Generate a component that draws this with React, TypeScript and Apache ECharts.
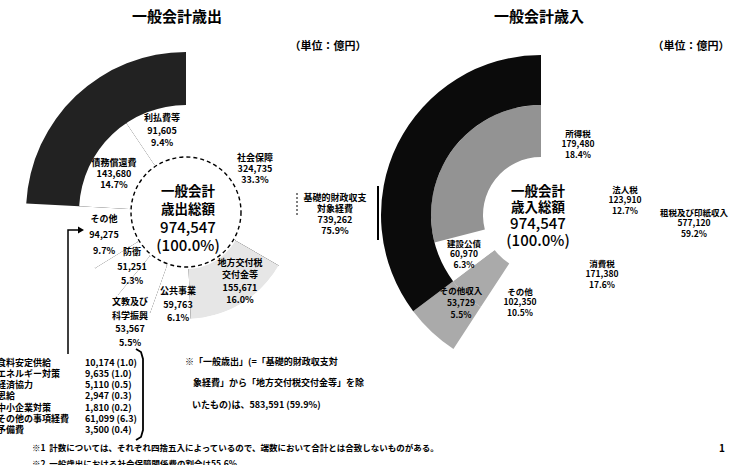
import { useEffect, useRef } from 'react';
import * as echarts from 'echarts';

// ---------------- data ----------------
const EXP_NAMES = ['社会保障', '地方交付税交付金等', '公共事業', '文教及び科学振興', '防衛', 'その他', '債務償還費', '利払費等'];
const EXP_VALUES = [324735, 155671, 59763, 53567, 51251, 94275, 143680, 91605];
const EXP_OUTER_NAMES = ['基礎的財政収支対象経費', '国債費'];

const REV_NAMES = ['所得税', '法人税', '消費税', 'その他', 'その他収入', '建設公債', '特例公債'];
const REV_VALUES = [179480, 123910, 171380, 102350, 53729, 60970, 282728];
const REV_OUTER_NAMES = ['租税及び印紙収入', 'その他収入', '公債金'];

const OTHER_NAMES = ['食料安定供給', 'エネルギー対策', '経済協力', '恩給', '中小企業対策', 'その他の事項経費', '予備費'];
const OTHER_VALUES = [10174, 9635, 5110, 2947, 1810, 61099, 3500];

// ---------------- helpers ----------------
const sum = (a: number[]) => a.reduce((s, v) => s + v, 0);
const fmt = (v: number) => v.toLocaleString('en-US');
const pct = (v: number, t: number) => ((v / t) * 100).toFixed(1);

const EXP_TOTAL = sum(EXP_VALUES);
const REV_TOTAL = sum(REV_VALUES);
const EXP_OUTER_VALUES = [sum(EXP_VALUES.slice(0, 6)), sum(EXP_VALUES.slice(6))];
const REV_OUTER_VALUES = [sum(REV_VALUES.slice(0, 4)), REV_VALUES[4], sum(REV_VALUES.slice(5))];
const GENERAL = EXP_OUTER_VALUES[0] - EXP_VALUES[1];

// ---------------- layout / style ----------------
const FONT = '"Noto Sans CJK JP", "Noto Sans", sans-serif';
const EXP_C = [186, 212];
const REV_C = [541, 215];
const E_R = [57, 107, 160];
const R_R = [58, 110, 160];

type Lab = { x: number; y: number; lh: number; text?: string };

const EXP_COLORS: Record<string, string> = { '地方交付税交付金等': '#e6e6e6' };
const EXP_OUTER_COLORS: Record<string, string> = { '基礎的財政収支対象経費': '#ffffff', '国債費': '#222222' };
const REV_COLORS: Record<string, string> = { '特例公債': '#939393', 'その他収入': '#aaaaaa' };
const REV_OUTER_COLORS: Record<string, string> = { '租税及び印紙収入': '#ffffff', 'その他収入': '#aaaaaa', '公債金': '#0b0b0b' };

const EXP_LABELS: Record<string, Lab> = {
  '社会保障': { x: 255, y: 168, lh: 11 },
  '地方交付税交付金等': { x: 240, y: 281, lh: 12.3, text: '地方交付税\n交付金等' },
  '公共事業': { x: 178, y: 304, lh: 13.5 },
  '文教及び科学振興': { x: 130, y: 322, lh: 13.7, text: '文教及び\n科学振興' },
  '防衛': { x: 132, y: 266, lh: 14.5 },
  'その他': { x: 104, y: 234, lh: 16 },
  '債務償還費': { x: 114, y: 173, lh: 11 },
  '利払費等': { x: 162, y: 130, lh: 12.5 },
};
const EXP_OUTER_LABELS: Record<string, Lab> = {
  '基礎的財政収支対象経費': { x: 335, y: 214, lh: 11, text: '基礎的財政収支\n対象経費' },
};
const REV_LABELS: Record<string, Lab> = {
  '所得税': { x: 578, y: 143, lh: 10.5 },
  '法人税': { x: 625, y: 199, lh: 10.5 },
  '消費税': { x: 602, y: 273, lh: 10.5 },
  'その他': { x: 520, y: 301, lh: 10.5 },
  'その他収入': { x: 461, y: 302, lh: 12 },
  '建設公債': { x: 464, y: 253, lh: 10.5 },
};
const REV_OUTER_LABELS: Record<string, Lab> = {
  '租税及び印紙収入': { x: 694, y: 222, lh: 10.5 },
};

function pieSeries(
  names: string[], values: number[], total: number,
  colors: Record<string, string>, labels: Record<string, Lab>,
  center: number[], radius: number[], fontSize: number,
) {
  return {
    type: 'pie',
    center,
    radius,
    startAngle: 90,
    clockwise: true,
    silent: true,
    avoidLabelOverlap: false,
    label: {
      show: true,
      position: 'inside',
      color: '#000',
      fontFamily: FONT,
      fontWeight: 'bold',
      fontSize,
      formatter: (p: any) => {
        const l = labels[p.name];
        return `${(l && l.text) || p.name}\n${fmt(p.value)}\n${pct(p.value, total)}%`;
      },
    },
    labelLine: { show: false },
    labelLayout: (params: any) => {
      const l = labels[names[params.dataIndex]];
      return l ? { x: l.x, y: l.y, align: 'center', verticalAlign: 'middle' } : {};
    },
    itemStyle: { borderWidth: 0 },
    emphasis: { disabled: true },
    data: names.map((n, i) => ({
      name: n,
      value: values[i],
      itemStyle: { color: colors[n] || '#ffffff' },
      label: labels[n] ? { lineHeight: labels[n].lh } : { show: false },
    })),
  };
}

function txt(text: string, x: number, y: number, size: number, opts: any = {}) {
  return {
    type: 'text',
    x,
    y,
    z: 100,
    silent: true,
    style: {
      text,
      fill: '#000',
      fontFamily: FONT,
      fontSize: size,
      fontWeight: opts.weight || 'bold',
      align: opts.align || 'center',
      verticalAlign: 'middle',
    },
  };
}

function centerText(title: string, total: number, x: number, y: number, lh: number) {
  return {
    type: 'text',
    x,
    y,
    z: 100,
    silent: true,
    style: {
      text: `{b|一般会計}\n{b|${title}}\n{n|${fmt(total)}}\n{n|(100.0%)}`,
      align: 'center',
      verticalAlign: 'middle',
      fill: '#000',
      rich: {
        b: { fontFamily: FONT, fontSize: 13.5, fontWeight: 'bold', lineHeight: lh, fill: '#000' },
        n: { fontFamily: FONT, fontSize: 15, fontWeight: 500, lineHeight: lh, fill: '#000' },
      },
    },
  };
}

function buildOption() {
  const starts: number[] = [];
  let acc = 0;
  EXP_VALUES.forEach((v) => {
    starts.push((acc / EXP_TOTAL) * 360);
    acc += v;
  });

  const graphics: any[] = [
    txt('一般会計歳出', 177, 15, 15),
    txt('一般会計歳入', 539, 15, 15),
    txt('（単位：億円）', 328, 45, 11),
    txt('（単位：億円）', 691, 45, 11),
    // centers
    centerText('歳出総額', EXP_TOTAL, 188, 217, 18),
    centerText('歳入総額', REV_TOTAL, 538, 214.5, 16.5),
    // inner dashed circle
    {
      type: 'circle', silent: true, z: 100,
      shape: { cx: EXP_C[0], cy: EXP_C[1], r: 55 },
      style: { fill: 'none', stroke: '#000', lineWidth: 1.4, lineDash: [4, 3] },
    },
    // dotted bracket for 基礎的財政収支
    { type: 'line', silent: true, z: 100, shape: { x1: 297, y1: 193, x2: 297, y2: 216 }, style: { stroke: '#000', lineWidth: 1, lineDash: [2, 2] } },
    { type: 'line', silent: true, z: 100, shape: { x1: 378, y1: 186, x2: 378, y2: 240 }, style: { stroke: '#000', lineWidth: 2 } },
    // arrow to その他
    { type: 'polyline', silent: true, z: 100, shape: { points: [[68, 354], [68, 230], [79, 230]] }, style: { stroke: '#000', lineWidth: 1.5, fill: 'none' } },
    { type: 'polygon', silent: true, z: 100, shape: { points: [[78, 226.5], [84, 230], [78, 233.5]] }, style: { fill: '#000' } },
    // bracket
    {
      type: 'polyline', silent: true, z: 100,
      shape: { points: [[136, 349], [141, 352], [143, 359], [143, 430], [141, 437], [136, 440]] },
      style: { stroke: '#000', lineWidth: 1.8, fill: 'none' },
    },
    // note
    txt('※「一般歳出」(=「基礎的財政収支対', 185, 361, 9, { align: 'left' }),
    txt('象経費」から「地方交付税交付金等」を除', 193, 382, 9, { align: 'left' }),
    txt(`いたもの)は、${fmt(GENERAL)} (${pct(GENERAL, EXP_TOTAL)}%)`, 192, 404, 9, { align: 'left' }),
    // footnotes
    txt('※1  計数については、それぞれ四捨五入によっているので、端数において合計とは合致しないものがある。', 32, 447, 8.5, { align: 'left' }),
    txt(`※2  一般歳出における社会保障関係費の割合は${pct(EXP_VALUES[0], GENERAL)}%。`, 32, 463, 8.5, { align: 'left' }),
    txt('1', 722, 447, 10),
  ];

  OTHER_NAMES.forEach((n, i) => {
    const y = 362 + i * 11.3;
    graphics.push(txt(n, -3, y, 9, { align: 'left' }));
    graphics.push(txt(`${fmt(OTHER_VALUES[i])} (${pct(OTHER_VALUES[i], EXP_TOTAL)})`, 85, y, 9, { align: 'left' }));
  });

  return {
    animation: false,
    backgroundColor: '#ffffff',
    series: [
      pieSeries(EXP_NAMES, EXP_VALUES, EXP_TOTAL, EXP_COLORS, EXP_LABELS, EXP_C, [E_R[0], E_R[1]], 9),
      pieSeries(EXP_OUTER_NAMES, EXP_OUTER_VALUES, EXP_TOTAL, EXP_OUTER_COLORS, EXP_OUTER_LABELS, EXP_C, [E_R[1], E_R[2]], 9),
      {
        type: 'custom',
        coordinateSystem: 'none',
        silent: true,
        data: starts.map((a, i) => [a, i]),
        renderItem: (_p: any, api: any) => {
          const rad = ((90 - api.value(0)) * Math.PI) / 180;
          const c = Math.cos(rad);
          const s = Math.sin(rad);
          return {
            type: 'line',
            shape: {
              x1: EXP_C[0] + E_R[0] * c, y1: EXP_C[1] - E_R[0] * s,
              x2: EXP_C[0] + E_R[1] * c, y2: EXP_C[1] - E_R[1] * s,
            },
            style: { stroke: '#000', lineWidth: 1.6, lineDash: api.value(1) === 0 ? [3, 3] : null },
          };
        },
      },
      pieSeries(REV_NAMES, REV_VALUES, REV_TOTAL, REV_COLORS, REV_LABELS, REV_C, [R_R[0], R_R[1]], 8.5),
      pieSeries(REV_OUTER_NAMES, REV_OUTER_VALUES, REV_TOTAL, REV_OUTER_COLORS, REV_OUTER_LABELS, REV_C, [R_R[1], R_R[2]], 8.5),
    ],
    graphic: graphics,
  };
}

export default function App() {
  const ref = useRef<HTMLDivElement>(null);
  useEffect(() => {
    document.body.style.margin = '0';
    const chart = echarts.init(ref.current as HTMLDivElement, undefined, { renderer: 'svg' });
    chart.setOption(buildOption() as any);
    return () => chart.dispose();
  }, []);
  return <div ref={ref} style={{ width: 733, height: 465, background: '#fff' }} />;
}
